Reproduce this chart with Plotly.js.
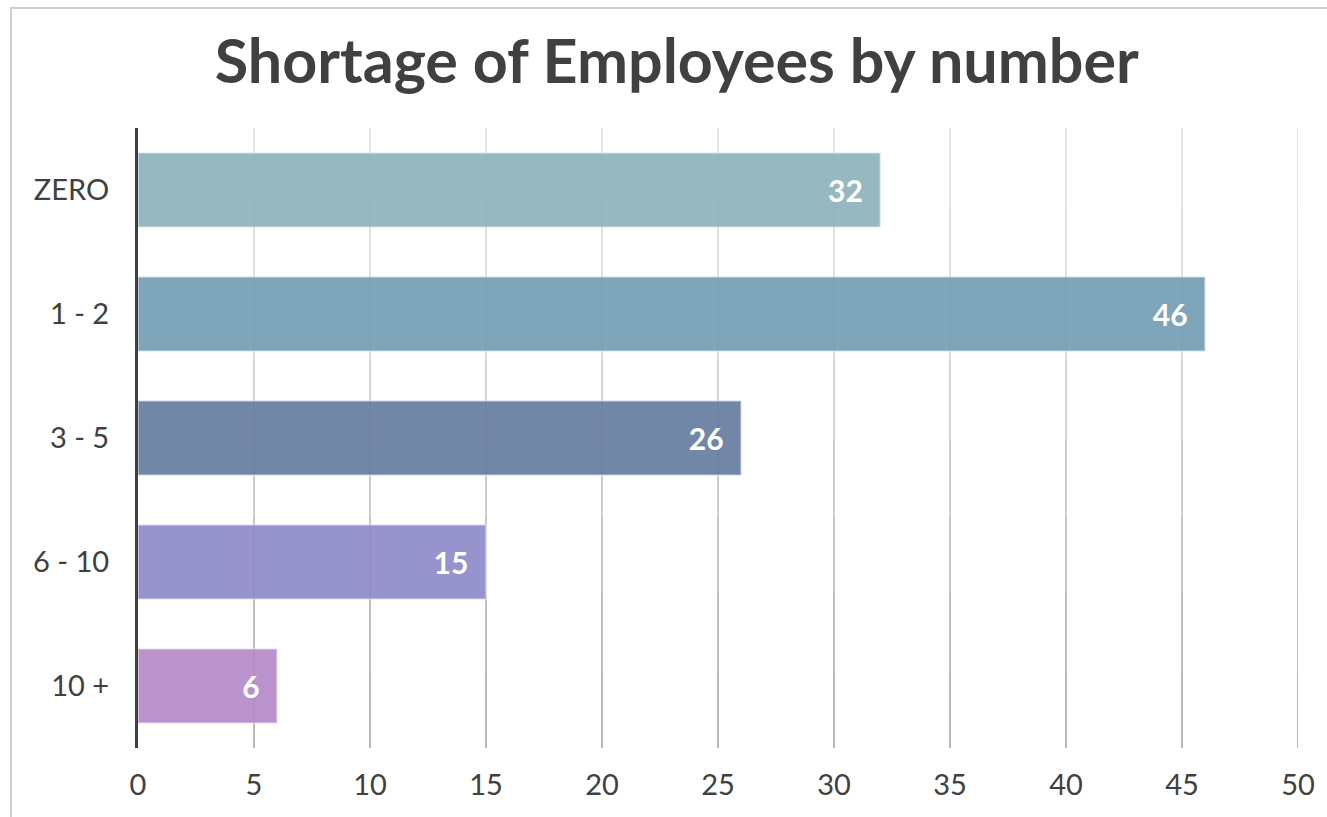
<!DOCTYPE html>
<html>
<head>
<meta charset="utf-8">
<script src="https://cdn.plot.ly/plotly-3.0.1.min.js"></script>
<style>
  html, body { margin: 0; padding: 0; background: #ffffff; overflow: hidden; }
  #frame { position: absolute; left: 10px; top: 7px; width: 1400px; height: 900px;
           border-left: 2px solid #cfcfcf; border-top: 2px solid #cfcfcf; box-sizing: border-box; }
  #chart { position: absolute; left: 0; top: 0; width: 1327px; height: 817px; }
</style>
</head>
<body>
<div id="frame"></div>
<div id="chart"></div>
<script>
const categories = ["ZERO", "1 - 2", "3 - 5", "6 - 10", "10 +"];
const values = [32, 46, 26, 15, 6];
const barColors = ["#8eb2bc", "#749eb5", "#677ca0", "#8f8ac8", "#b58ac9"];
const xTicks = [0, 5, 10, 15, 20, 25, 30, 35, 40, 45, 50];
const titleText = "Shortage of Employees by number";

// gradient-like gridlines: light at top, darker at bottom
const shapes = [];
const nSeg = 8;
function mix(a, b, t) { return Math.round(a + (b - a) * t); }
xTicks.filter(v => v > 0).forEach(v => {
  for (let i = 0; i < nSeg; i++) {
    const t = (i + 0.5) / nSeg;
    const c = mix(165, 228, t);
    shapes.push({
      type: "line", xref: "x", yref: "paper", layer: "below",
      x0: v, x1: v, y0: i / nSeg, y1: (i + 1) / nSeg,
      line: { color: `rgb(${c},${c},${c})`, width: 1.6 }
    });
  }
});

const trace = {
  type: "bar",
  orientation: "h",
  y: categories,
  x: values,
  text: values.map(v => String(v) + "\u00a0\u00a0"),
  textposition: "inside",
  insidetextanchor: "end",
  textfont: { family: "Lato, sans-serif", size: 30, color: "#ffffff", weight: "bold" },
  constraintext: "none",
  marker: { color: barColors, opacity: 0.92, line: { color: "rgba(255,255,255,0.4)", width: 2 } },
  hoverinfo: "skip"
};

const layout = {
  width: 1327, height: 817,
  margin: { l: 138, r: 29, t: 128, b: 69, pad: 0 },
  paper_bgcolor: "rgba(0,0,0,0)",
  plot_bgcolor: "rgba(0,0,0,0)",
  bargap: 0.4,
  showlegend: false,
  title: {
    text: "<b>" + titleText + "</b>",
    x: 0.51, xanchor: "center", y: 0.925, yanchor: "middle",
    font: { family: "Lato, sans-serif", size: 61, color: "#404040" }
  },
  xaxis: {
    range: [0, 50], tickvals: xTicks, ticktext: xTicks.map(String),
    showgrid: false, zeroline: false, showline: false, ticks: "",
    ticklabelstandoff: 17,
    tickfont: { family: "Lato, sans-serif", size: 29, color: "#404040" },
    fixedrange: true
  },
  yaxis: {
    type: "category", categoryorder: "array", categoryarray: categories,
    autorange: "reversed",
    showgrid: false, zeroline: false,
    showline: true, linecolor: "#404040", linewidth: 3,
    ticks: "", ticklabelstandoff: 20,
    tickfont: { family: "Lato, sans-serif", size: 29, color: "#404040" },
    fixedrange: true
  },
  shapes: shapes
};

Plotly.newPlot("chart", [trace], layout, { displayModeBar: false, staticPlot: true });
</script>
</body>
</html>
